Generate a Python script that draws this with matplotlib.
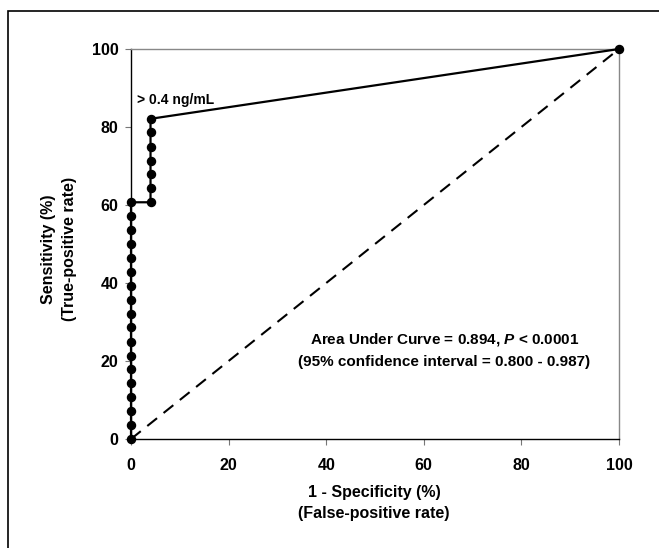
import matplotlib.pyplot as plt
from matplotlib.patches import Rectangle

plt.rcParams['font.family'] = ['Liberation Sans', 'DejaVu Sans']
plt.rcParams['font.weight'] = 'bold'
plt.rcParams['mathtext.fontset'] = 'custom'
plt.rcParams['mathtext.it'] = 'Liberation Sans:italic:bold'

# ROC points (%)
fpr = [0, 0, 0, 0, 0, 0, 0, 0, 0, 0, 0, 0, 0, 0, 0, 0, 0, 0,
       4.0, 4.0, 4.0, 4.0, 4.0, 4.0, 4.0, 100]
tpr = [0, 3.6, 7.1, 10.7, 14.3, 17.9, 21.4, 25.0, 28.6, 32.1, 35.7, 39.3,
       42.9, 46.4, 50.0, 53.6, 57.1, 60.7,
       60.7, 64.3, 67.9, 71.4, 75.0, 78.6, 82.1, 100]
ref_line = [0, 100]
ticks = [0, 20, 40, 60, 80, 100]

fig = plt.figure(figsize=(6.59, 5.48), dpi=100)
fig.patches.append(Rectangle((8 / 659, -0.1), 1.2, 1 - 11 / 548 + 0.1,
                             transform=fig.transFigure, fill=False,
                             edgecolor='black', lw=1.2))

ax = fig.add_axes([131 / 659, 1 - 439 / 548, 488 / 659, 390 / 548])
ax.plot(ref_line, ref_line, '--', color='black', lw=1.5, dashes=(6, 4))
ax.plot(fpr, tpr, '-o', color='black', lw=1.6, ms=5.8, clip_on=False, zorder=3)

ax.set_xlim(0, 100)
ax.set_ylim(0, 100)
ax.set_xticks(ticks)
ax.set_yticks(ticks)
ax.tick_params(labelsize=11.5, length=4, width=0.8, color='#777777')
ax.tick_params(axis='x', pad=10)
ax.tick_params(axis='y', pad=5)
for lab in ax.get_xticklabels() + ax.get_yticklabels():
    lab.set_fontweight('bold')

ax.spines['left'].set_color('black')
ax.spines['bottom'].set_color('black')
ax.spines['top'].set_color('#888888')
ax.spines['right'].set_color('#888888')
for s in ax.spines.values():
    s.set_linewidth(1.0)

fig.text(374 / 659, 1 - 503 / 548, '1 - Specificity (%)\n(False-positive rate)',
         fontsize=11.5, fontweight='bold', ha='center', va='center',
         linespacing=1.42)
fig.text(59 / 659, 1 - 249 / 548, 'Sensitivity (%)\n(True-positive rate)',
         fontsize=11.5, fontweight='bold', ha='center', va='center',
         rotation=90, linespacing=1.55)

ax.text(1.2, 86, '> 0.4 ng/mL', fontsize=10, fontweight='bold')
ax.text(64.2, 25.4, 'Area Under Curve = 0.894, $P$ < 0.0001',
        fontsize=11, fontweight='bold', ha='center', va='center')
ax.text(64.2, 19.7, '(95% confidence interval = 0.800 - 0.987)',
        fontsize=11, fontweight='bold', ha='center', va='center')

fig.savefig('out.png', dpi=100)
